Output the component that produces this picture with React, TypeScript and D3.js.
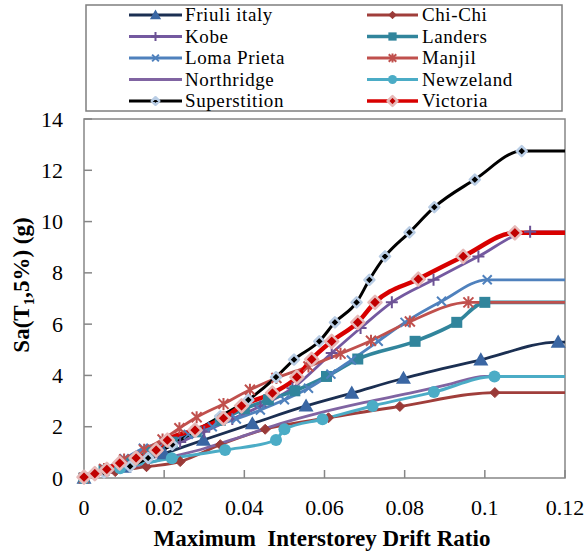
import React from "react";
import * as d3 from "d3";

const W = 585;
const H = 555;
const PLOT = { left: 84, right: 565, top: 119, bottom: 478 };

const xTicks = [0, 0.02, 0.04, 0.06, 0.08, 0.1, 0.12];
const xTickLabels = ["0", "0.02", "0.04", "0.06", "0.08", "0.1", "0.12"];
const yTicks = [0, 2, 4, 6, 8, 10, 12, 14];

// Maximum interstorey drift ratio vs. Sa(T1,5%) for each record (IDA curves).
// The last entry of each series lies past the axis maximum and is clipped.
const friuliDrift = [0, 0.01, 0.02, 0.0298, 0.042, 0.0554, 0.0668, 0.0797, 0.099, 0.1183, 0.135];
const friuliSa = [0, 0.42, 0.95, 1.48, 2.12, 2.81, 3.31, 3.89, 4.61, 5.3, 5.3];

const chiChiDrift = [0, 0.0078, 0.0156, 0.024, 0.034, 0.0452, 0.061, 0.0788, 0.1025, 0.135];
const chiChiSa = [0, 0.25, 0.44, 0.64, 1.3, 1.9, 2.35, 2.79, 3.33, 3.33];

const kobeDrift = [0, 0.006, 0.012, 0.018, 0.024, 0.03, 0.037, 0.044, 0.052, 0.0618, 0.069, 0.0768, 0.0872, 0.0984, 0.1113, 0.135];
const kobeSa = [0, 0.3, 0.65, 1.0, 1.4, 1.8, 2.3, 2.8, 3.5, 4.87, 5.85, 6.85, 7.73, 8.64, 9.6, 9.6];

const landersDrift = [0, 0.005, 0.01, 0.016, 0.022, 0.028, 0.034, 0.04, 0.046, 0.0526, 0.0605, 0.0683, 0.0826, 0.093, 0.1, 0.135];
const landersSa = [0, 0.3, 0.62, 1.0, 1.4, 1.8, 2.25, 2.7, 3.05, 3.4, 3.96, 4.64, 5.33, 6.07, 6.85, 6.85];

const lomaDrift = [0, 0.005, 0.01, 0.0148, 0.02, 0.026, 0.032, 0.038, 0.044, 0.05, 0.056, 0.0616, 0.0667, 0.0734, 0.0801, 0.0892, 0.1006, 0.135];
const lomaSa = [0, 0.35, 0.75, 1.16, 1.4, 1.7, 2.0, 2.3, 2.65, 3.05, 3.5, 4.05, 4.6, 5.33, 6.07, 6.89, 7.73, 7.73];

const manjilDrift = [0, 0.005, 0.01, 0.015, 0.0196, 0.0238, 0.0281, 0.0348, 0.0414, 0.048, 0.056, 0.064, 0.0716, 0.0813, 0.0959, 0.135];
const manjilSa = [0, 0.35, 0.72, 1.1, 1.5, 1.94, 2.37, 2.89, 3.44, 3.9, 4.35, 4.85, 5.35, 6.1, 6.85, 6.85];

const northridgeDrift = [0, 0.01, 0.02, 0.03, 0.039, 0.049, 0.059, 0.07, 0.0813, 0.091, 0.1, 0.135];
const northridgeSa = [0, 0.35, 0.75, 1.15, 1.6, 2.12, 2.55, 2.95, 3.31, 3.65, 3.96, 3.96];

const newzelandDrift = [0, 0.009, 0.0219, 0.0352, 0.0479, 0.05, 0.0595, 0.072, 0.0873, 0.1024, 0.135];
const newzelandSa = [0, 0.38, 0.77, 1.09, 1.48, 1.9, 2.29, 2.81, 3.35, 3.96, 3.96];

const superstitionDrift = [0, 0.005, 0.0115, 0.016, 0.022, 0.028, 0.034, 0.041, 0.0479, 0.0524, 0.0587, 0.0626, 0.068, 0.0712, 0.0751, 0.0812, 0.0874, 0.0975, 0.1092, 0.135];
const superstitionSa = [0, 0.22, 0.45, 0.78, 1.3, 1.85, 2.4, 3.05, 3.93, 4.62, 5.33, 6.07, 6.85, 7.73, 8.64, 9.58, 10.56, 11.64, 12.75, 12.75];

const victoriaDrift = [0, 0.0027, 0.0057, 0.0089, 0.013, 0.018, 0.0208, 0.0277, 0.0348, 0.0393, 0.047, 0.0531, 0.0568, 0.0618, 0.0683, 0.0726, 0.0834, 0.0946, 0.1075, 0.135];
const victoriaSa = [0.03, 0.17, 0.34, 0.58, 0.78, 1.09, 1.48, 1.87, 2.33, 2.81, 3.31, 3.93, 4.63, 5.33, 6.07, 6.85, 7.76, 8.64, 9.56, 9.56];

type Marker = "triangle" | "diamond" | "plus" | "square" | "cross" | "star" | "none" | "circle";

interface Series {
  name: string;
  drift: number[];
  sa: number[];
  color: string;
  width: number;
  marker: Marker;
  size: number;
  fill: string;
  outline?: string;
  outlineWidth?: number;
}

const series: Series[] = [
  { name: "Friuli italy", drift: friuliDrift, sa: friuliSa, color: "#1b2f52", width: 2.8, marker: "triangle", size: 7.5, fill: "#3a66a3" },
  { name: "Chi-Chi", drift: chiChiDrift, sa: chiChiSa, color: "#a03e3b", width: 2.8, marker: "diamond", size: 5, fill: "#9a3a38" },
  { name: "Kobe", drift: kobeDrift, sa: kobeSa, color: "#7459a0", width: 2.8, marker: "plus", size: 6, fill: "#6c5294" },
  { name: "Landers", drift: landersDrift, sa: landersSa, color: "#31859c", width: 3.6, marker: "square", size: 5.5, fill: "#31859c" },
  { name: "Loma Prieta", drift: lomaDrift, sa: lomaSa, color: "#4f81bd", width: 2.8, marker: "cross", size: 4.5, fill: "#4f81bd" },
  { name: "Manjil", drift: manjilDrift, sa: manjilSa, color: "#c0504d", width: 2.8, marker: "star", size: 5, fill: "#c0504d" },
  { name: "Northridge", drift: northridgeDrift, sa: northridgeSa, color: "#8064a2", width: 2.8, marker: "none", size: 0, fill: "#8064a2" },
  { name: "Newzeland", drift: newzelandDrift, sa: newzelandSa, color: "#4bacc6", width: 3, marker: "circle", size: 6, fill: "#4bacc6" },
  { name: "Superstition", drift: superstitionDrift, sa: superstitionSa, color: "#000000", width: 3, marker: "diamond", size: 5, fill: "#000000", outline: "#b9cde5", outlineWidth: 2.5 },
  { name: "Victoria", drift: victoriaDrift, sa: victoriaSa, color: "#d80000", width: 4.5, marker: "diamond", size: 6.5, fill: "#c00000", outline: "#e6b9b8", outlineWidth: 2.5 },
];

const x = d3.scaleLinear().domain([0, 0.12]).range([PLOT.left, PLOT.right]);
const y = d3.scaleLinear().domain([0, 14]).range([PLOT.bottom, PLOT.top]);

const txt = { fontFamily: '"Liberation Serif"' };

function MarkerShape({ s, cx, cy }: { s: Series; cx: number; cy: number }) {
  const r = s.size;
  const t = `translate(${cx},${cy})`;
  switch (s.marker) {
    case "diamond":
      return (
        <path
          transform={t}
          d={`M0,${-r}L${r},0L0,${r}L${-r},0Z`}
          fill={s.fill}
          stroke={s.outline ?? s.fill}
          strokeWidth={s.outlineWidth ?? 1}
          strokeLinejoin="round"
        />
      );
    case "triangle":
      return <path transform={t} d={`M0,${-r}L${r},${r * 0.75}L${-r},${r * 0.75}Z`} fill={s.fill} />;
    case "square":
      return <rect x={cx - r} y={cy - r} width={2 * r} height={2 * r} fill={s.fill} />;
    case "circle":
      return <circle cx={cx} cy={cy} r={r} fill={s.fill} />;
    case "plus":
      return <path transform={t} d={`M${-r},0H${r}M0,${-r}V${r}`} stroke={s.fill} strokeWidth={2} fill="none" />;
    case "cross":
      return <path transform={t} d={`M${-r},${-r}L${r},${r}M${r},${-r}L${-r},${r}`} stroke={s.fill} strokeWidth={2} fill="none" />;
    case "star":
      return (
        <path
          transform={t}
          d={`M${-r},${-r}L${r},${r}M${r},${-r}L${-r},${r}M0,${-r * 1.2}V${r * 1.2}`}
          stroke={s.fill}
          strokeWidth={2}
          fill="none"
        />
      );
    default:
      return null;
  }
}

export default function App() {
  const line = d3
    .line<[number, number]>()
    .x((d) => x(d[0]))
    .y((d) => y(d[1]))
    .curve(d3.curveMonotoneX);

  const legendRows = [15, 36.5, 58, 79.5, 101];
  const legendCols = [
    { x1: 129, x2: 182, tx: 185 },
    { x1: 367, x2: 418, tx: 422 },
  ];

  return (
    <svg
      width={W}
      height={H}
      viewBox={`0 0 ${W} ${H}`}
      style={{ position: "absolute", left: 0, top: 0, background: "#fff", ...txt }}
    >
      <defs>
        <clipPath id="plot-clip">
          <rect x={PLOT.left} y={PLOT.top - 10} width={PLOT.right - PLOT.left} height={PLOT.bottom - PLOT.top + 20} />
        </clipPath>
      </defs>

      {/* Legend */}
      <rect x={86} y={5} width={476} height={106} fill="#fff" stroke="#7f7f7f" strokeWidth={1.5} />
      {series.map((s, i) => {
        const col = legendCols[i % 2];
        const cy = legendRows[Math.floor(i / 2)];
        const cx = (col.x1 + col.x2) / 2;
        return (
          <g key={s.name}>
            <line x1={col.x1} x2={col.x2} y1={cy} y2={cy} stroke={s.color} strokeWidth={Math.min(s.width, 3.5)} />
            <MarkerShape s={{ ...s, size: s.size * 0.75 }} cx={cx} cy={cy} />
            <text x={col.tx} y={cy + 6} fontSize={19} letterSpacing={0.6} fill="#000" style={txt}>
              {s.name}
            </text>
          </g>
        );
      })}

      {/* Plot frame */}
      <rect
        x={PLOT.left}
        y={PLOT.top}
        width={PLOT.right - PLOT.left}
        height={PLOT.bottom - PLOT.top}
        fill="none"
        stroke="#868686"
        strokeWidth={1.5}
      />

      {/* Y axis ticks and labels */}
      {yTicks.map((v) => (
        <g key={`y${v}`}>
          <line x1={PLOT.left} x2={PLOT.left + 8} y1={y(v)} y2={y(v)} stroke="#868686" strokeWidth={1.5} />
          <text x={63} y={y(v) + 7.5} textAnchor="end" fontSize={22} fill="#000" style={txt}>
            {v}
          </text>
        </g>
      ))}

      {/* X axis ticks and labels */}
      {xTicks.map((v, i) => (
        <g key={`x${v}`}>
          <line x1={x(v)} x2={x(v)} y1={PLOT.bottom} y2={PLOT.bottom - 8} stroke="#868686" strokeWidth={1.5} />
          <text x={x(v)} y={515} textAnchor="middle" fontSize={22} fill="#000" style={txt}>
            {xTickLabels[i]}
          </text>
        </g>
      ))}

      {/* Curves */}
      <g clipPath="url(#plot-clip)">
        {series.map((s) => (
          <path
            key={s.name}
            d={line(s.drift.map((d, i) => [d, s.sa[i]] as [number, number])) ?? ""}
            fill="none"
            stroke={s.color}
            strokeWidth={s.width}
            strokeLinejoin="round"
            strokeLinecap="round"
          />
        ))}
      </g>
      {series.map((s) => (
        <g key={`m-${s.name}`}>
          {s.drift.map((d, i) =>
            d <= 0.12 ? <MarkerShape key={i} s={s} cx={x(d)} cy={y(s.sa[i])} /> : null
          )}
        </g>
      ))}

      {/* Axis titles */}
      <text x={322} y={546} textAnchor="middle" fontSize={23} fontWeight="bold" fill="#000" style={{ ...txt, whiteSpace: "pre" }}>
        {"Maximum  Interstorey Drift Ratio"}
      </text>
      <text
        transform="translate(29,285) rotate(-90)"
        textAnchor="middle"
        fontSize={23}
        fontWeight="bold"
        fill="#000"
        style={txt}
      >
        Sa(T
        <tspan dy={5} fontSize={15}>
          1
        </tspan>
        <tspan dy={-5}>,5%) (g)</tspan>
      </text>
    </svg>
  );
}
